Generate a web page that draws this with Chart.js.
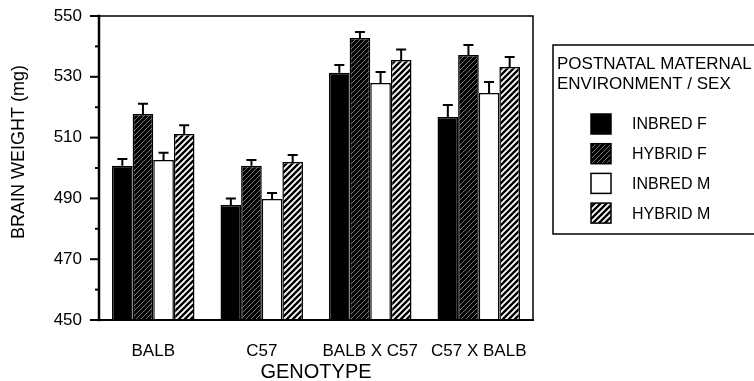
<!DOCTYPE html>
<html>
<head>
<meta charset="utf-8">
<script src="https://cdn.jsdelivr.net/npm/chart.js@4.4.0/dist/chart.umd.min.js"></script>
<style>
  html, body { margin: 0; padding: 0; background: #fff; }
</style>
</head>
<body>
<canvas id="brainChart" width="754" height="381"></canvas>
<script>
// genotype groups on the x axis
const genotypes = ['BALB', 'C57', 'BALB X C57', 'C57 X BALB'];
const seriesNames = ['INBRED F', 'HYBRID F', 'INBRED M', 'HYBRID M'];
const legendTitle = ['POSTNATAL MATERNAL', 'ENVIRONMENT / SEX'];

// mean brain weight (mg)
const inbredF = [500.7, 487.8, 531.3, 516.8];
const hybridF = [517.8, 500.7, 542.8, 537.2];
const inbredM = [502.6, 489.8, 528.0, 524.7];
const hybridM = [511.2, 502.0, 535.5, 533.2];

// standard error (upper bar only)
const inbredFErr = [2.3, 2.2, 2.6, 3.9];
const hybridFErr = [3.3, 1.9, 1.9, 3.3];
const inbredMErr = [2.4, 2.0, 3.6, 3.6];
const hybridMErr = [2.9, 2.3, 3.5, 3.3];

const yTicks = [450, 470, 490, 510, 530, 550];

function makeHatch(bg, fg, lw, size) {
  const c = document.createElement('canvas');
  c.width = size;
  c.height = size;
  const g = c.getContext('2d');
  g.fillStyle = bg;
  g.fillRect(0, 0, size, size);
  g.strokeStyle = fg;
  g.lineWidth = lw;
  g.beginPath();
  g.moveTo(0, size); g.lineTo(size, 0);
  g.moveTo(-size, size); g.lineTo(size, -size);
  g.moveTo(0, 2 * size); g.lineTo(2 * size, 0);
  g.stroke();
  return g.createPattern(c, 'repeat');
}

const ctx = document.getElementById('brainChart').getContext('2d');
const darkHatch = makeHatch('#000', '#777', 1, 5);
const lightHatch = makeHatch('#fff', '#000', 2.4, 6);

const fontFamily = '"Liberation Sans", Arial, sans-serif';
Chart.defaults.font.family = fontFamily;
Chart.defaults.color = '#000';

const extras = {
  id: 'extras',
  afterDatasetsDraw(chart) {
    const { ctx, scales: { y } } = chart;
    ctx.save();
    ctx.strokeStyle = '#000';
    ctx.lineWidth = 2;
    chart.data.datasets.forEach((ds, i) => {
      chart.getDatasetMeta(i).data.forEach((bar, j) => {
        const top = y.getPixelForValue(ds.data[j] + ds.errors[j]);
        ctx.beginPath();
        ctx.moveTo(bar.x, bar.y);
        ctx.lineTo(bar.x, top);
        ctx.moveTo(bar.x - 5, top);
        ctx.lineTo(bar.x + 5, top);
        ctx.stroke();
      });
    });
    ctx.restore();
  },
  afterDraw(chart) {
    const { ctx, chartArea: a, scales: { y } } = chart;
    ctx.save();
    ctx.strokeStyle = '#000';
    ctx.lineCap = 'square';
    // frame
    ctx.lineWidth = 1.5;
    ctx.beginPath();
    ctx.moveTo(a.left, a.top); ctx.lineTo(a.right, a.top); ctx.lineTo(a.right, a.bottom);
    ctx.stroke();
    ctx.lineWidth = 2;
    ctx.beginPath();
    ctx.moveTo(a.left, a.bottom); ctx.lineTo(a.right, a.bottom);
    ctx.stroke();
    ctx.lineWidth = 2.5;
    ctx.beginPath();
    ctx.moveTo(a.left, a.top); ctx.lineTo(a.left, a.bottom);
    ctx.stroke();
    // y ticks, long at labels, short in between
    ctx.lineWidth = 2;
    ctx.lineCap = 'butt';
    y.ticks.forEach(t => {
      const py = y.getPixelForValue(t.value);
      const len = yTicks.includes(t.value) ? 9 : 4;
      ctx.beginPath();
      ctx.moveTo(a.left - len, py);
      ctx.lineTo(a.left, py);
      ctx.stroke();
    });
    // y axis title (sits a bit above centre in the original)
    ctx.fillStyle = '#000';
    ctx.font = '18px ' + fontFamily;
    ctx.textAlign = 'center';
    ctx.textBaseline = 'middle';
    ctx.save();
    ctx.translate(19, 152);
    ctx.rotate(-Math.PI / 2);
    ctx.fillText('BRAIN WEIGHT (mg)', 0, 0);
    ctx.restore();
    // legend box
    const lx = 553, ly = 45;
    ctx.lineWidth = 1.5;
    ctx.strokeRect(lx, ly, 230, 189);
    ctx.font = '17px ' + fontFamily;
    ctx.textAlign = 'left';
    legendTitle.forEach((s, i) => ctx.fillText(s, lx + 4, 64 + i * 20));
    ctx.font = '16px ' + fontFamily;
    chart.data.datasets.forEach((ds, i) => {
      const cy = 124 + i * 29.7;
      ctx.fillStyle = ds.backgroundColor;
      ctx.fillRect(591, cy - 10, 20, 20);
      ctx.lineWidth = 1.5;
      ctx.strokeRect(591, cy - 10, 20, 20);
      ctx.fillStyle = '#000';
      ctx.fillText(ds.label, 632, cy + 1);
    });
    ctx.restore();
  }
};

new Chart(ctx, {
  type: 'bar',
  data: {
    labels: genotypes,
    datasets: [
      { label: seriesNames[0], data: inbredF, errors: inbredFErr, backgroundColor: '#000' },
      { label: seriesNames[1], data: hybridF, errors: hybridFErr, backgroundColor: darkHatch },
      { label: seriesNames[2], data: inbredM, errors: inbredMErr, backgroundColor: '#fff' },
      { label: seriesNames[3], data: hybridM, errors: hybridMErr, backgroundColor: lightHatch },
    ].map(d => Object.assign(d, {
      borderColor: '#000',
      borderWidth: 1.5,
      categoryPercentage: 0.76,
      barPercentage: 1,
    })),
  },
  options: {
    responsive: false,
    animation: false,
    events: [],
    layout: { padding: { left: 0, right: 221, top: 16, bottom: 0 } },
    plugins: { legend: { display: false }, tooltip: { enabled: false } },
    scales: {
      x: {
        grid: { display: false },
        border: { display: false },
        ticks: { font: { size: 17 }, padding: 13, maxRotation: 0 },
        title: { display: true, text: 'GENOTYPE', font: { size: 20, lineHeight: 0.9 }, padding: 0 },
        afterFit(scale) { scale.height = 61; },
      },
      y: {
        min: 450,
        max: 550,
        grid: { display: false, drawTicks: false },
        border: { display: false },
        ticks: {
          stepSize: 10,
          padding: 17,
          font: { size: 17 },
          callback: v => (yTicks.includes(v) ? v : ''),
        },
        afterFit(scale) {
          scale.width = 99;
          scale.paddingTop = 0;
          scale.paddingBottom = 0;
        },
      },
    },
  },
  plugins: [extras],
});
</script>
</body>
</html>
